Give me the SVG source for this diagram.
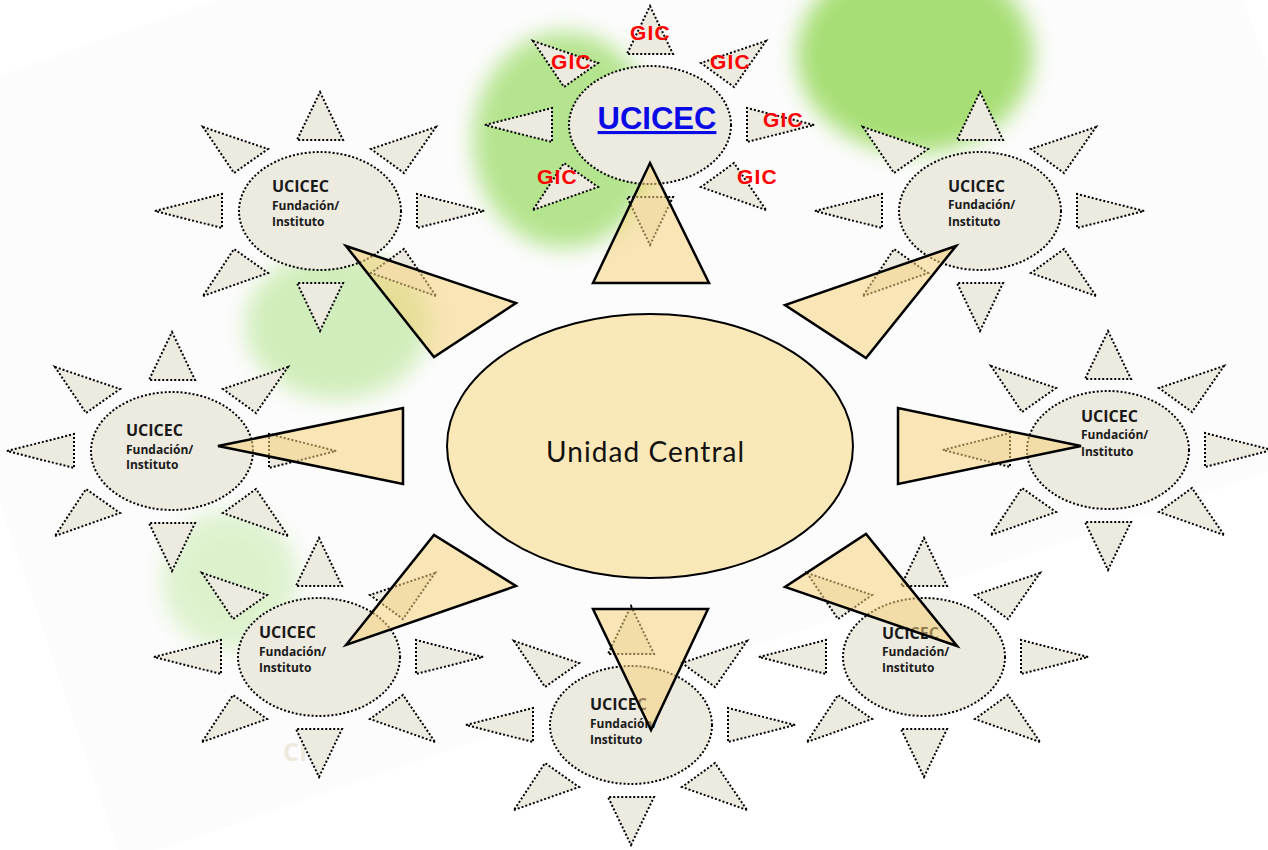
<svg xmlns="http://www.w3.org/2000/svg" xmlns:xlink="http://www.w3.org/1999/xlink" width="1268" height="850" viewBox="0 0 1268 850">
<style>
.ray{fill:#edeae0;stroke:#000;stroke-width:2;stroke-dasharray:2 2;}
.core{fill:#edeae0;stroke:#000;stroke-width:2;stroke-dasharray:2 2;}
.t1{font-family:"Open Sans","Liberation Sans",sans-serif;font-weight:bold;font-size:16px;fill:#1a1a1a;}
.t2{font-family:"Open Sans","Liberation Sans",sans-serif;font-weight:bold;font-size:12px;fill:#1a1a1a;}
.gic{font-family:"Liberation Sans",Arial,sans-serif;font-weight:bold;font-size:21px;fill:#ff0000;letter-spacing:1.2px;}
.conn{fill:#f5d27a;fill-opacity:.55;stroke:#000;stroke-width:2.5;stroke-linejoin:miter;}
.blob{filter:url(#blur);}
</style>
<defs>
<filter id="blur" x="-50%" y="-50%" width="200%" height="200%"><feGaussianBlur stdDeviation="11"/></filter>
<g id="rays">
<path class="ray" d="M0,-119 L23,-71 L-23,-71 Z"/>
<path class="ray" d="M0,120 L23,72 L-23,72 Z"/>
<path class="ray" d="M-165,0 L-98,-17 L-98,17 Z"/>
<path class="ray" d="M164,0 L97,-17 L97,17 Z"/>
<path class="ray" d="M-117,-84 L-52,-62 L-86,-38 Z"/>
<path class="ray" d="M116,-84 L51,-62 L84,-38 Z"/>
<path class="ray" d="M-117,85 L-52,62 L-86,38 Z"/>
<path class="ray" d="M116,85 L51,62 L84,38 Z"/>
</g>
</defs>
<rect width="1268" height="850" fill="#ffffff"/>
<polygon points="-130,121 1125,-318 1401,427 122,862" fill="#fcfcfc"/>
<g id="background-blobs">
<ellipse class="blob" cx="565" cy="140" rx="92" ry="108" fill="#a8e07a" opacity="0.85"/>
<ellipse class="blob" cx="915" cy="55" rx="118" ry="98" fill="#a3dd6e" opacity="0.95"/>
<ellipse class="blob" cx="337" cy="325" rx="92" ry="75" fill="#b5e490" opacity="0.6"/>
<ellipse class="blob" cx="230" cy="580" rx="68" ry="70" fill="#bfe8a0" opacity="0.5"/>
</g>
<text x="283" y="761" font-family="'Open Sans','Liberation Sans',sans-serif" font-weight="bold" font-size="25" fill="#ece9dc">CI</text>
<g id="sun-top">
<use xlink:href="#rays" href="#rays" x="650" y="125"/>
<ellipse class="core" cx="650" cy="125" rx="81" ry="59"/>
<text x="657" y="129" text-anchor="middle" font-family="'Liberation Sans',Arial,sans-serif" font-weight="bold" font-size="31" fill="#0a0ae6" text-decoration="underline">UCICEC</text>
<text class="gic" x="630" y="40">GIC</text>
<text class="gic" x="551" y="69">GIC</text>
<text class="gic" x="710" y="69">GIC</text>
<text class="gic" x="763" y="127">GIC</text>
<text class="gic" x="537" y="184">GIC</text>
<text class="gic" x="737" y="184">GIC</text>
</g>
<g id="sun-upper-left">
<use xlink:href="#rays" href="#rays" x="320" y="211"/>
<ellipse class="core" cx="320" cy="211" rx="81" ry="59"/>
<text class="t1" x="272" y="192">UCICEC</text>
<text class="t2" x="272" y="210">Fundación/</text>
<text class="t2" x="272" y="226">Instituto</text>
</g>
<g id="sun-upper-right">
<use xlink:href="#rays" href="#rays" x="980" y="211"/>
<ellipse class="core" cx="980" cy="211" rx="81" ry="59"/>
<text class="t1" x="948" y="192">UCICEC</text>
<text class="t2" x="948" y="209">Fundación/</text>
<text class="t2" x="948" y="226">Instituto</text>
</g>
<g id="sun-left">
<use xlink:href="#rays" href="#rays" x="172" y="451"/>
<ellipse class="core" cx="172" cy="451" rx="81" ry="59"/>
<text class="t1" x="126" y="436">UCICEC</text>
<text class="t2" x="126" y="454">Fundación/</text>
<text class="t2" x="126" y="469">Instituto</text>
</g>
<g id="sun-right">
<use xlink:href="#rays" href="#rays" x="1108" y="450"/>
<ellipse class="core" cx="1108" cy="450" rx="81" ry="59"/>
<text class="t1" x="1081" y="422">UCICEC</text>
<text class="t2" x="1081" y="439">Fundación/</text>
<text class="t2" x="1081" y="456">Instituto</text>
</g>
<g id="sun-lower-left">
<use xlink:href="#rays" href="#rays" x="319" y="657"/>
<ellipse class="core" cx="319" cy="657" rx="81" ry="59"/>
<text class="t1" x="259" y="638">UCICEC</text>
<text class="t2" x="259" y="656">Fundación/</text>
<text class="t2" x="259" y="672">Instituto</text>
</g>
<g id="sun-bottom">
<use xlink:href="#rays" href="#rays" x="631" y="725"/>
<ellipse class="core" cx="631" cy="725" rx="81" ry="59"/>
<text class="t1" x="590" y="710">UCICEC</text>
<text class="t2" x="590" y="728">Fundación/</text>
<text class="t2" x="590" y="744">Instituto</text>
</g>
<g id="sun-lower-right">
<use xlink:href="#rays" href="#rays" x="924" y="657"/>
<ellipse class="core" cx="924" cy="657" rx="81" ry="59"/>
<text class="t1" x="882" y="639">UCICEC</text>
<text class="t2" x="882" y="656">Fundación/</text>
<text class="t2" x="882" y="672">Instituto</text>
</g>
<g id="connectors">
<polygon class="conn" points="650,163 709,283 593,283"/>
<polygon class="conn" points="346,246 516,303 434,357"/>
<polygon class="conn" points="956,246 785,305 866,358"/>
<polygon class="conn" points="218,446 403,408 403,484"/>
<polygon class="conn" points="1081,446 898,408 898,484"/>
<polygon class="conn" points="346,645 434,535 516,586"/>
<polygon class="conn" points="651,730 593,609 708,609"/>
<polygon class="conn" points="957,646 785,587 866,534"/>
</g>
<g id="unidad-central">
<ellipse cx="650" cy="446" rx="203" ry="132" fill="#fbe8b9" stroke="#000" stroke-width="2"/>
<text x="645" y="462" text-anchor="middle" font-family="Lato,'Liberation Sans',sans-serif" font-size="28" fill="#111" textLength="198">Unidad Central</text>
</g>
</svg>
